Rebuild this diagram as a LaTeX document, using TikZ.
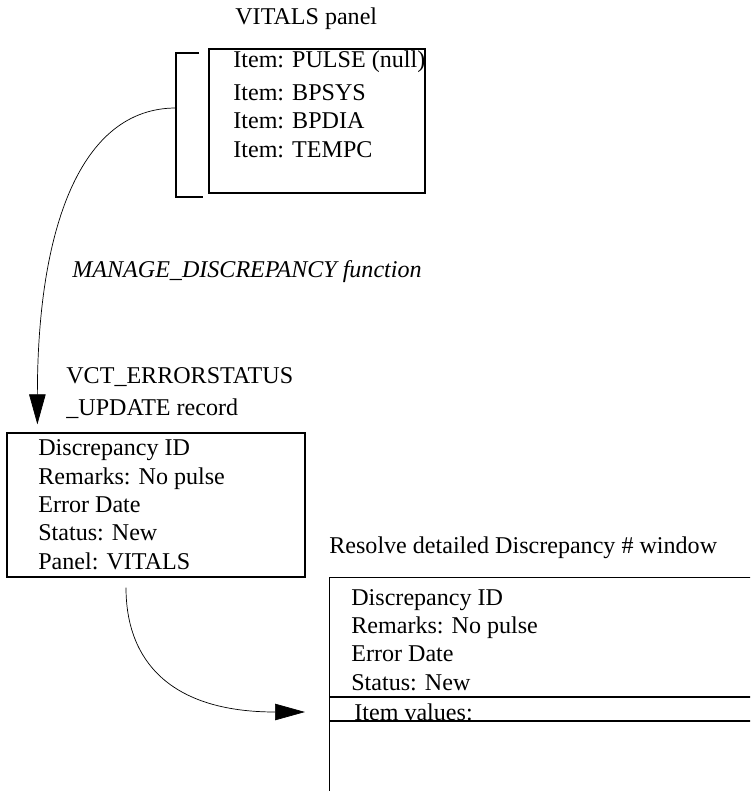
\documentclass[tikz,border=0pt]{standalone}
\usepackage{fontspec}
\setmainfont{Liberation Serif}
\usepackage{tikz}
\usetikzlibrary{arrows.meta,positioning}

\begin{document}
\begin{tikzpicture}[
    font=\fontsize{13.7}{16.1}\selectfont,
    panelbox/.style={draw, line width=0.7pt, inner sep=0pt},
    itemtext/.style={anchor=base west, align=left, inner sep=0pt},
    flow/.style={line width=0.4pt, -{Triangle[length=6mm,width=3.3mm]}},
]
\useasboundingbox (0,0) rectangle (15,-15.82);
\clip (0,0) rectangle (15,-15.82);

% Panel with its items (base of a multi-line node = its last line)
\node[itemtext] (vitalsTitle) at (4.7,-0.5) {VITALS panel};
\node[panelbox, minimum width=4.32cm, minimum height=2.88cm] (vitals) at (6.34,-2.42) {};
\node[itemtext] (pulseItem) at (4.66,-1.36) {Item: PULSE (null)};
\node[itemtext] (otherItems) at (4.66,-3.14) {Item: BPSYS\\Item: BPDIA\\Item: TEMPC};
\draw[line width=0.7pt] (3.98,-1.06) -- (3.52,-1.06) -- (3.52,-3.94) -- (4.06,-3.94);
\coordinate (brk) at (3.52,-2.16);

\node[itemtext, font=\fontsize{13.7}{16.1}\selectfont\itshape] (fnLabel) at (1.44,-5.54) {MANAGE\_DISCREPANCY function};

% Error status record
\node[itemtext] (recTitle) at (1.32,-8.3) {VCT\_ERRORSTATUS\\[0.07cm]\_UPDATE record};
\node[panelbox, minimum width=5.96cm, minimum height=2.88cm] (rec) at (3.12,-10.1) {};
\node[itemtext] (recText) at (0.76,-11.38) {Discrepancy ID\\Remarks: No pulse\\Error Date\\Status: New\\Panel: VITALS};

% Resolve window
\node[itemtext] (winTitle) at (6.58,-11.06) {Resolve detailed Discrepancy \# window};
\node[panelbox, anchor=north west, minimum width=8.8cm, minimum height=5cm] (win) at (6.58,-11.54) {};
\node[itemtext] (winText) at (7.02,-13.8) {Discrepancy ID\\Remarks: No pulse\\Error Date\\Status: New};
\node[itemtext] (itemVals) at (7.08,-14.4) {Item values:};
\draw[line width=0.7pt] ([yshift=-2.4cm]win.north west) -- ([yshift=-2.4cm]win.north east);
\draw[line width=0.7pt] ([yshift=-2.88cm]win.north west) -- ([yshift=-2.88cm]win.north east);
\coordinate (winIn) at (6.1,-14.24);

% Connectors
\draw[flow] (brk) .. controls +(-1.92,0) and +(0,3.9) .. ([xshift=0.62cm,yshift=0.16cm]rec.north west);
\draw[flow] ([xshift=-0.6cm,yshift=-0.2cm]rec.south) .. controls +(0,-1.46) and +(-2.7,0) .. (winIn);

\end{tikzpicture}
\end{document}
